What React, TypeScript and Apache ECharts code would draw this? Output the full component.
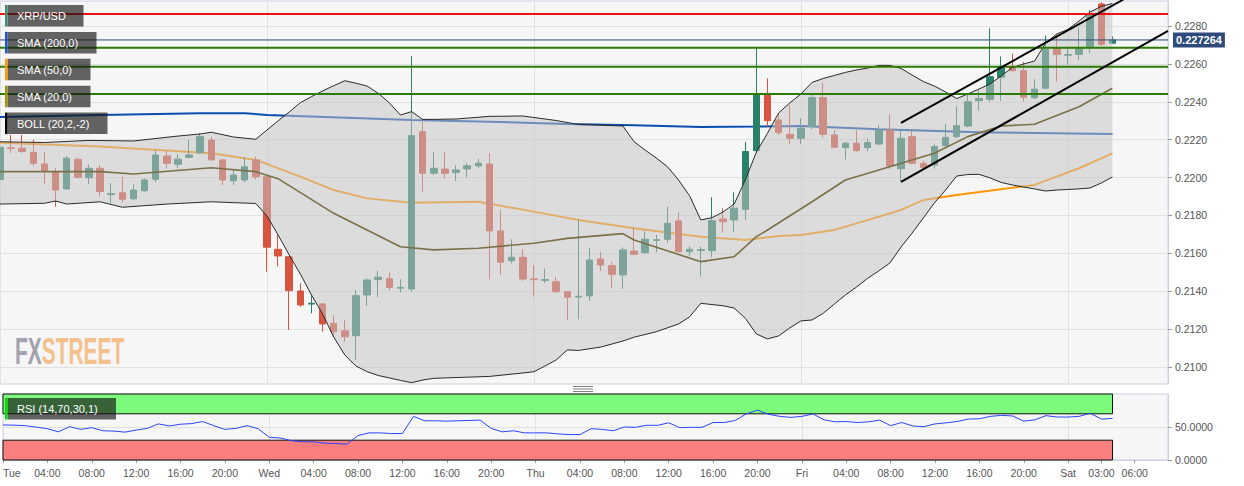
import React, { useEffect, useRef } from 'react';
import * as echarts from 'echarts';

// ---------- DATA ----------
const dayNames = ['Tue', 'Wed', 'Thu', 'Fri', 'Sat'];
const hourCount = 106; // Tue 00:00 .. Sat 09:00
const categories: string[] = [];
for (let i = 0; i < hourCount; i++) {
  categories.push(dayNames[Math.floor(i / 24)] + ' ' + String(i % 24).padStart(2, '0') + ':00');
}

const xTickLabels: [number, string][] = [
  [0, 'Tue'], [4, '04:00'], [8, '08:00'], [12, '12:00'], [16, '16:00'], [20, '20:00'],
  [24, 'Wed'], [28, '04:00'], [32, '08:00'], [36, '12:00'], [40, '16:00'], [44, '20:00'],
  [48, 'Thu'], [52, '04:00'], [56, '08:00'], [60, '12:00'], [64, '16:00'], [68, '20:00'],
  [72, 'Fri'], [76, '04:00'], [80, '08:00'], [84, '12:00'], [88, '16:00'], [92, '20:00'],
  [96, 'Sat'], [99, '03:00'], [102, '06:00'],
];
const priceTicks = [0.21, 0.212, 0.214, 0.216, 0.218, 0.22, 0.222, 0.224, 0.226, 0.228];
const rsiTicks = [0, 50];

// hourly candles [open, high, low, close]
const candles: [number, number, number, number][] = [
  [0.2199, 0.2221, 0.2197, 0.2216],
  [0.22157, 0.22225, 0.2213, 0.22153],
  [0.22155, 0.22225, 0.2213, 0.22138],
  [0.22133, 0.222, 0.2206, 0.22075],
  [0.22072, 0.22135, 0.21967, 0.22036],
  [0.22031, 0.2205, 0.21846, 0.21934],
  [0.2194, 0.22113, 0.21935, 0.22102],
  [0.22096, 0.22105, 0.21995, 0.22001],
  [0.21999, 0.2207, 0.21966, 0.22049],
  [0.22049, 0.22067, 0.21899, 0.21926],
  [0.2191, 0.2197, 0.21866, 0.21915],
  [0.2192, 0.22005, 0.21867, 0.21885],
  [0.21888, 0.21963, 0.2188, 0.21934],
  [0.2193, 0.21995, 0.21925, 0.21987],
  [0.21991, 0.22145, 0.21975, 0.22119],
  [0.22114, 0.22145, 0.22048, 0.22075],
  [0.2207, 0.22124, 0.22048, 0.22097],
  [0.22107, 0.22198, 0.221, 0.22119],
  [0.22131, 0.22233, 0.22124, 0.22216],
  [0.22198, 0.22215, 0.2209, 0.22093],
  [0.22093, 0.22098, 0.2196, 0.21987],
  [0.21983, 0.2204, 0.2196, 0.22013],
  [0.21987, 0.22108, 0.21975, 0.22057],
  [0.22093, 0.22112, 0.2199, 0.22004],
  [0.22004, 0.22013, 0.21503, 0.21632],
  [0.21621, 0.21697, 0.2153, 0.21586],
  [0.21582, 0.21585, 0.21195, 0.21403],
  [0.21401, 0.21442, 0.21318, 0.21327],
  [0.21332, 0.2138, 0.21283, 0.21336],
  [0.21333, 0.21335, 0.21186, 0.21227],
  [0.2123, 0.21274, 0.21161, 0.21186],
  [0.21191, 0.21248, 0.21133, 0.2116],
  [0.21165, 0.21406, 0.21037, 0.21376],
  [0.2138, 0.21468, 0.21322, 0.21459],
  [0.21461, 0.21508, 0.21368, 0.21473],
  [0.21466, 0.21499, 0.21403, 0.2142],
  [0.21416, 0.21463, 0.21392, 0.2142],
  [0.21412, 0.22642, 0.21397, 0.22221],
  [0.22242, 0.22295, 0.21925, 0.22022],
  [0.22023, 0.22133, 0.22013, 0.22049],
  [0.22045, 0.22133, 0.21996, 0.22022],
  [0.22026, 0.22066, 0.21982, 0.2204],
  [0.22045, 0.22077, 0.21999, 0.22062],
  [0.22062, 0.22099, 0.22049, 0.22075],
  [0.22072, 0.22128, 0.21463, 0.21718],
  [0.21718, 0.21829, 0.21486, 0.21553],
  [0.21561, 0.21674, 0.21547, 0.21579],
  [0.21579, 0.21621, 0.21455, 0.21464],
  [0.21465, 0.21538, 0.21371, 0.21461],
  [0.21457, 0.21519, 0.21443, 0.21461],
  [0.2145, 0.21476, 0.2139, 0.21397],
  [0.21397, 0.214, 0.21248, 0.21368],
  [0.21369, 0.2178, 0.21252, 0.21373],
  [0.21375, 0.2163, 0.2135, 0.21565],
  [0.2157, 0.21606, 0.21506, 0.21538],
  [0.21535, 0.21553, 0.21417, 0.21489],
  [0.21486, 0.21631, 0.21412, 0.21618],
  [0.21612, 0.21735, 0.2159, 0.21595],
  [0.21603, 0.21716, 0.21598, 0.21674],
  [0.21668, 0.21697, 0.21606, 0.21672],
  [0.21674, 0.21846, 0.21656, 0.21758],
  [0.21771, 0.21816, 0.21605, 0.21609],
  [0.21609, 0.21637, 0.21585, 0.21621],
  [0.21615, 0.21635, 0.21477, 0.21619],
  [0.21614, 0.21896, 0.21579, 0.21772],
  [0.21781, 0.21838, 0.21709, 0.21767],
  [0.21776, 0.21922, 0.21714, 0.21838],
  [0.21832, 0.22188, 0.21776, 0.22137],
  [0.22142, 0.22682, 0.2213, 0.22441],
  [0.22436, 0.22524, 0.22268, 0.223],
  [0.22304, 0.2234, 0.22225, 0.22237],
  [0.22228, 0.22383, 0.22177, 0.22207],
  [0.22207, 0.22313, 0.22177, 0.2226],
  [0.22269, 0.22436, 0.22254, 0.22422],
  [0.22422, 0.22501, 0.2221, 0.22228],
  [0.22225, 0.2225, 0.22155, 0.2216],
  [0.22158, 0.22187, 0.22096, 0.22181],
  [0.22181, 0.22251, 0.22135, 0.22142],
  [0.22158, 0.22207, 0.2214, 0.22184],
  [0.22177, 0.22275, 0.2217, 0.22251],
  [0.22251, 0.22334, 0.22044, 0.22061],
  [0.22046, 0.22246, 0.21978, 0.22207],
  [0.22216, 0.22246, 0.2207, 0.22075],
  [0.22075, 0.2209, 0.2204, 0.22054],
  [0.22066, 0.22175, 0.22047, 0.22163],
  [0.22168, 0.22283, 0.2216, 0.22212],
  [0.22216, 0.22377, 0.2221, 0.22274],
  [0.22272, 0.22445, 0.22265, 0.224],
  [0.22406, 0.2246, 0.22354, 0.22418],
  [0.22413, 0.22788, 0.224, 0.22532],
  [0.22529, 0.22639, 0.22404, 0.22587],
  [0.22587, 0.22655, 0.2256, 0.22564],
  [0.22564, 0.2261, 0.22402, 0.22424],
  [0.22421, 0.22519, 0.22415, 0.22467],
  [0.22471, 0.2275, 0.22467, 0.22677],
  [0.22682, 0.22756, 0.22506, 0.2265],
  [0.22645, 0.22682, 0.22595, 0.22649],
  [0.2265, 0.22788, 0.2262, 0.22682],
  [0.22691, 0.22884, 0.22656, 0.22863],
  [0.22916, 0.22925, 0.22695, 0.22703],
  [0.22709, 0.22745, 0.22705, 0.227264],
];
const lastPrice = 0.227264;

// indicator lines: [hour index, value]
const sma200: [number, number][] = [
  [0, 0.2232], [9, 0.2233], [18, 0.22339], [22, 0.2234], [24, 0.2233], [37, 0.22304], [45, 0.22293],
  [51, 0.22283], [57, 0.22276], [63, 0.22267], [68, 0.22269], [72, 0.22272], [79, 0.22255],
  [88, 0.22239], [100, 0.2223],
];
const sma50: [number, number][] = [
  [0, 0.22184], [9, 0.22164], [19, 0.22128], [23, 0.22093], [27, 0.22005], [30, 0.21934],
  [33, 0.2189], [37, 0.21867], [43, 0.21872], [48, 0.2182], [52, 0.21776], [57, 0.21732],
  [63, 0.21688], [67, 0.2167], [70, 0.21691], [72, 0.21697], [75, 0.21723], [77, 0.21758],
  [81, 0.21829], [83, 0.21881], [86, 0.21908], [93, 0.21961], [97, 0.22049], [100, 0.22128],
];
const sma20: [number, number][] = [
  [0, 0.22031], [9, 0.22031], [12, 0.22019], [19, 0.22052], [23, 0.22031], [25, 0.21994],
  [30, 0.21811], [33, 0.21723], [36, 0.21635], [39, 0.21618], [43, 0.21627], [48, 0.21653],
  [51, 0.21679], [56, 0.21704], [57, 0.2167], [63, 0.21556], [66, 0.21582], [68, 0.21688],
  [69, 0.21723], [73, 0.21872], [76, 0.21987], [79, 0.2204], [84, 0.22128], [87, 0.22216],
  [90, 0.22272], [93, 0.22281], [97, 0.22374], [100, 0.22471],
];
const bollUpper: [number, number][] = [
  [0, 0.22189], [4, 0.22185], [8, 0.22196], [12, 0.22193], [16, 0.22219], [18, 0.2223],
  [19, 0.22239], [21, 0.22214], [23, 0.22202], [24, 0.22251], [25, 0.22299], [26, 0.22346],
  [27, 0.22395], [28, 0.22427], [29, 0.22457], [30, 0.22485], [31, 0.22511], [32, 0.22498],
  [33, 0.22483], [34, 0.22445], [35, 0.22394], [36, 0.2233], [37, 0.22348], [38, 0.22307],
  [39, 0.22307], [41, 0.22309], [44, 0.22323], [47, 0.22325], [50, 0.22301], [52, 0.2228],
  [55, 0.22274], [56, 0.22272], [57, 0.22189], [58, 0.22145], [59, 0.22103], [60, 0.22057],
  [61, 0.21987], [62, 0.21903], [63, 0.21776], [64, 0.21788], [65, 0.21818], [66, 0.2186],
  [67, 0.21987], [68, 0.22135], [69, 0.22234], [70, 0.22341], [71, 0.22394], [72, 0.22441],
  [73, 0.22502], [74, 0.22523], [75, 0.22539], [76, 0.22555], [77, 0.22568], [78, 0.22578],
  [79, 0.22592], [80, 0.22592], [81, 0.22576], [82, 0.22541], [83, 0.22507], [84, 0.22483],
  [85, 0.22452], [86, 0.22417], [87, 0.22441], [88, 0.22467], [89, 0.22494], [90, 0.22536],
  [91, 0.22581], [92, 0.22599], [93, 0.22615], [94, 0.2271], [95, 0.22758], [96, 0.22782],
  [97, 0.22826], [98, 0.22874], [99, 0.22903], [100, 0.22919],
];
const bollLower: [number, number][] = [
  [0, 0.2186], [4, 0.21864], [5, 0.21876], [6, 0.2186], [9, 0.21872], [11, 0.21843],
  [15, 0.2186], [19, 0.21872], [23, 0.21863], [24, 0.21797], [25, 0.21697], [26, 0.21591],
  [27, 0.21491], [28, 0.2138], [29, 0.2128], [30, 0.21158], [31, 0.21063], [32, 0.21005],
  [33, 0.20975], [34, 0.20955], [35, 0.20942], [36, 0.20929], [37, 0.20917], [38, 0.20931],
  [39, 0.2094], [41, 0.20944], [44, 0.2095], [47, 0.20968], [48, 0.20975], [49, 0.21005],
  [50, 0.21037], [51, 0.2109], [52, 0.21087], [54, 0.21105], [56, 0.21137], [57, 0.21157],
  [59, 0.21186], [61, 0.21227], [62, 0.21265], [63, 0.21336], [65, 0.21323], [66, 0.21311],
  [67, 0.21257], [68, 0.21174], [69, 0.21148], [70, 0.21164], [71, 0.21206], [72, 0.21243],
  [73, 0.21248], [74, 0.21283], [75, 0.21332], [76, 0.2138], [77, 0.21422], [78, 0.21468],
  [79, 0.21507], [80, 0.21549], [81, 0.21633], [82, 0.21707], [83, 0.21786], [84, 0.21866],
  [85, 0.21934], [86, 0.22008], [87, 0.22016], [88, 0.22017], [89, 0.21998], [90, 0.21974],
  [91, 0.21961], [92, 0.2195], [93, 0.2194], [94, 0.21929], [95, 0.21934], [96, 0.21937],
  [97, 0.2194], [98, 0.21945], [99, 0.21971], [100, 0.22003],
];
const channelUpper: [number, number][] = [[81, 0.22288], [101, 0.2294]];
const channelLower: [number, number][] = [[81, 0.21977], [105, 0.22774]];
const resistanceLine = 0.22863;
const supportLines = [0.22685, 0.22585, 0.22441];

const rsi: number[] = [
  53.1, 52.8, 52, 49.8, 47.4, 42.7, 50.5, 46.4, 49, 44.3,
  43.8, 42.2, 45.3, 47.9, 54.7, 51.6, 54.2, 55.2, 58.3, 52,
  46.4, 47.9, 52, 47.4, 34.4, 33.3, 29.2, 27.6, 27.6, 25.5,
  25, 23.9, 37, 41.1, 41.1, 40.1, 40.1, 66.1, 59.4, 59.4,
  58.9, 59.4, 59.9, 60.4, 47.9, 42.7, 44.3, 41.1, 41.1, 41.1,
  39.6, 38.5, 38.5, 47.4, 46.4, 44.3, 50, 49.5, 52.6, 52.6,
  56.3, 49, 49.5, 49.5, 56.8, 56.8, 59.9, 69.8, 75.5, 69.3,
  66.1, 64.6, 66.1, 69.8, 60.9, 57.8, 58.3, 56.8, 57.8, 60.4,
  52, 56.8, 51.6, 50.5, 54.7, 56.3, 58.3, 62, 62.5, 66.1,
  67.7, 66.7, 58.9, 60.9, 67.2, 65.1, 65.1, 66.1, 70.8, 62,
  63,
];
const rsiOverbought = 70;
const rsiOversold = 30;

const legendLabels = ['XRP/USD', 'SMA (200,0)', 'SMA (50,0)', 'SMA (20,0)', 'BOLL (20,2,-2)'];
const rsiLabel = 'RSI (14,70,30,1)';

// ---------- STYLE ----------
const FONT = '"Liberation Sans", Arial, Helvetica, sans-serif';
const UP = '#2b806a';
const DOWN = '#d7543f';
const legendStripe = ['#3d8f78', '#1a56c8', '#ff9900', '#a39400', '#000000'];
const legendWidths = [76, 89, 83, 83, 100];

export default function App() {
  const ref = useRef<HTMLDivElement>(null);

  useEffect(() => {
    if (!ref.current) return;
    const chart = echarts.init(ref.current, undefined, { renderer: 'svg' });
    const labelMap = new Map<number, string>(xTickLabels);
    const isLabel = (i: number) => labelMap.has(i);
    const lastIndex = candles.length - 1;
    const lastCat = hourCount - 1;

    const graphic: any[] = [];
    legendLabels.forEach((txt, i) => {
      const y = 5 + i * 26.9;
      graphic.push({ type: 'rect', z: 100, shape: { x: 7.5, y, width: legendWidths[i], height: 21.5 }, style: { fill: 'rgba(22,22,22,0.66)' } });
      graphic.push({ type: 'rect', z: 101, shape: { x: 5, y, width: 2.5, height: 21.5 }, style: { fill: legendStripe[i] } });
      graphic.push({ type: 'text', z: 102, x: 17, y: y + 11, style: { text: txt, fill: '#ffffff', fontSize: 11, fontFamily: FONT, textVerticalAlign: 'middle', verticalAlign: 'middle' } });
    });
    graphic.push({ type: 'rect', z: 100, shape: { x: 7.5, y: 398, width: 108.5, height: 21.5 }, style: { fill: 'rgba(22,22,22,0.66)' } });
    graphic.push({ type: 'rect', z: 101, shape: { x: 5, y: 398, width: 2.5, height: 21.5 }, style: { fill: '#00e000' } });
    graphic.push({ type: 'text', z: 102, x: 17, y: 409, style: { text: rsiLabel, fill: '#ffffff', fontSize: 11, fontFamily: FONT, textVerticalAlign: 'middle', verticalAlign: 'middle' } });
    // watermark
    graphic.push({ type: 'text', z: 1, x: 15, y: 351, scaleX: 0.565, style: { text: 'FX', fill: '#a2a2ae', fontSize: 37, fontWeight: 'bold', fontFamily: FONT, textVerticalAlign: 'middle', verticalAlign: 'middle' } });
    graphic.push({ type: 'text', z: 1, x: 41.7, y: 351, scaleX: 0.565, style: { text: 'STREET', fill: '#f4c08c', fontSize: 37, fontWeight: 'bold', fontFamily: FONT, textVerticalAlign: 'middle', verticalAlign: 'middle' } });
    // panel resize handle
    [386.5, 389, 391.5].forEach((y) => {
      graphic.push({ type: 'line', z: 50, shape: { x1: 573, y1: y, x2: 593, y2: y }, style: { stroke: '#808080', lineWidth: 1 } });
    });

    const hLine = (v: number, color: string, width: number) => ({
      type: 'line', xAxisIndex: 0, yAxisIndex: 0, z: 5, silent: true, symbol: 'none', clip: false,
      data: [[0, v], [lastCat, v]],
      lineStyle: { color, width },
    });

    const option: any = {
      animation: false,
      backgroundColor: '#ffffff',
      textStyle: { fontFamily: FONT },
      grid: [
        { left: 0, right: 76, top: 1, height: 383, show: true, backgroundColor: '#f6f6f6', borderColor: '#cdd1e3', borderWidth: 1 },
        { left: 0, right: 76, top: 394, height: 66, show: true, backgroundColor: '#f6f6f6', borderColor: '#cdd1e3', borderWidth: 1 },
      ],
      xAxis: [
        {
          gridIndex: 0, type: 'category', data: categories, boundaryGap: false,
          axisLine: { show: false }, axisTick: { show: false }, axisLabel: { show: false },
          splitLine: { show: true, interval: (i: number) => i % 24 === 0, lineStyle: { color: '#e1e1e1' } },
        },
        {
          gridIndex: 1, type: 'category', data: categories, boundaryGap: false,
          axisLine: { show: true, lineStyle: { color: '#cdd1e3' } },
          axisTick: { show: true, interval: (i: number) => isLabel(i), length: 3, lineStyle: { color: '#9a9a9a' } },
          axisLabel: {
            show: true, interval: (i: number) => isLabel(i), formatter: (_v: string, i: number) => labelMap.get(i) || '',
            color: '#555555', fontSize: 10.5, margin: 7, alignMinLabel: 'left',
          },
          splitLine: { show: true, interval: (i: number) => i % 24 === 0, lineStyle: { color: '#e1e1e1' } },
        },
      ],
      yAxis: [
        {
          gridIndex: 0, type: 'value', position: 'right', min: 0.2091, max: 0.22932,
          axisLine: { show: true, lineStyle: { color: '#cdd1e3' } },
          axisTick: { show: true, length: 4, customValues: priceTicks, lineStyle: { color: '#9a9a9a' } },
          axisLabel: { show: true, customValues: priceTicks, formatter: (v: number) => v.toFixed(4), color: '#555555', fontSize: 10.5, margin: 7 },
          splitLine: { show: true, lineStyle: { color: '#e1e1e1' } },
        },
        {
          gridIndex: 1, type: 'value', position: 'right', min: 0, max: 100,
          axisLine: { show: true, lineStyle: { color: '#cdd1e3' } },
          axisTick: { show: true, length: 4, customValues: rsiTicks, lineStyle: { color: '#9a9a9a' } },
          axisLabel: { show: true, customValues: rsiTicks, formatter: (v: number) => v.toFixed(4), color: '#555555', fontSize: 10.5, margin: 7 },
          splitLine: { show: true, lineStyle: { color: '#e1e1e1' } },
        },
      ],
      series: [
        {
          type: 'candlestick', xAxisIndex: 0, yAxisIndex: 0, z: 2, barWidth: 7,
          data: candles.map(([o, h, l, c]) => [o, c, l, h]),
          itemStyle: { color: UP, color0: DOWN, borderColor: UP, borderColor0: DOWN, borderWidth: 1 },
        },
        { type: 'line', xAxisIndex: 0, yAxisIndex: 0, z: 2, data: sma200, symbol: 'none', lineStyle: { color: '#0a4db0', width: 2 } },
        { type: 'line', xAxisIndex: 0, yAxisIndex: 0, z: 2, data: sma50, symbol: 'none', lineStyle: { color: '#ff9500', width: 2 } },
        {
          type: 'custom', xAxisIndex: 0, yAxisIndex: 0, z: 3, silent: true,
          data: [[0, bollUpper[0][1]]],
          renderItem: (_p: any, api: any) => {
            const pts: number[][] = [];
            bollUpper.forEach((pt) => pts.push(api.coord(pt)));
            for (let i = bollLower.length - 1; i >= 0; i--) pts.push(api.coord(bollLower[i]));
            return { type: 'polygon', shape: { points: pts }, style: { fill: 'rgba(197,197,197,0.53)' } };
          },
        },
        { type: 'line', xAxisIndex: 0, yAxisIndex: 0, z: 4, data: sma20, symbol: 'none', lineStyle: { color: '#7a7148', width: 1.6 } },
        { type: 'line', xAxisIndex: 0, yAxisIndex: 0, z: 4, data: bollUpper, symbol: 'none', lineStyle: { color: '#2a2a2a', width: 1 } },
        { type: 'line', xAxisIndex: 0, yAxisIndex: 0, z: 4, data: bollLower, symbol: 'none', lineStyle: { color: '#2a2a2a', width: 1 } },
        hLine(resistanceLine, '#f01010', 2),
        ...supportLines.map((v) => hLine(v, '#2b7d00', 2)),
        {
          ...hLine(lastPrice, '#2d4a78', 1),
          endLabel: {
            show: true, distance: 5, formatter: () => String(lastPrice),
            color: '#ffffff', fontWeight: 'bold', fontSize: 11, fontFamily: FONT,
            backgroundColor: '#2d4b7a', padding: [2, 3, 2, 3],
          },
        },
        { type: 'line', xAxisIndex: 0, yAxisIndex: 0, z: 5, data: channelUpper, symbol: 'none', clip: true, lineStyle: { color: '#000000', width: 2 } },
        { type: 'line', xAxisIndex: 0, yAxisIndex: 0, z: 5, data: channelLower, symbol: 'none', clip: true, lineStyle: { color: '#000000', width: 2 } },
        {
          type: 'line', xAxisIndex: 1, yAxisIndex: 1, z: 3, data: rsi, symbol: 'none',
          lineStyle: { color: '#2b45ff', width: 1 },
          markArea: {
            silent: true,
            data: [
              [{ xAxis: 0, yAxis: rsiOverbought, itemStyle: { color: '#7bfa7b', borderColor: '#111111', borderWidth: 1 } }, { xAxis: lastIndex, yAxis: 100 }],
              [{ xAxis: 0, yAxis: 0, itemStyle: { color: '#f97e7e', borderColor: '#111111', borderWidth: 1 } }, { xAxis: lastIndex, yAxis: rsiOversold }],
            ],
          },
        },
      ],
      graphic,
    };
    chart.setOption(option);
    return () => chart.dispose();
  }, []);

  return <div ref={ref} style={{ position: 'fixed', left: 0, top: 0, width: 1244, height: 486 }} />;
}
